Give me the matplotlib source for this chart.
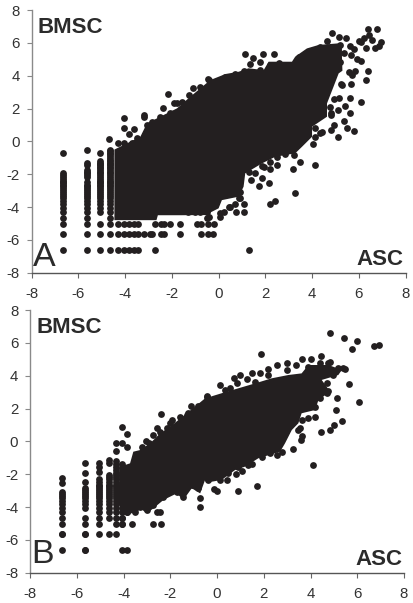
import matplotlib
matplotlib.use('Agg')
import matplotlib.pyplot as plt

plt.rcParams['font.family'] = ['Liberation Sans', 'DejaVu Sans']
plt.rcParams['axes.unicode_minus'] = False

W, H = 413, 603
INK = '#231f20'

ticks = [-8, -6, -4, -2, 0, 2, 4, 6, 8]

# panel A: stripes at low ASC
a_col_x = [-6.64, -5.64, -5.06, -4.64]
a_col_y = [
    [-6.64, -5.64, -5.06, -4.64, -4.32, -4.06, -3.84, -3.64, -3.47, -3.32, -3.18, -3.06,
     -2.94, -2.84, -2.74, -2.64, -2.56, -2.47, -2.40, -2.32, -2.18, -2.06, -1.94, -0.69],
    [-6.64, -5.64, -5.06, -4.64, -4.32, -4.06, -3.84, -3.64, -3.47, -3.32, -3.18, -3.06,
     -2.94, -2.84, -2.74, -2.64, -2.47, -2.18, -2.06, -1.94, -1.84, -1.74, -1.47, -1.32, -0.53],
    [-6.64, -5.64, -5.06, -4.32, -4.06, -3.84, -3.64, -3.47, -3.32, -3.18, -3.06, -2.94,
     -2.84, -2.74, -2.64, -2.56, -2.47, -2.40, -2.32, -2.18, -2.06, -1.94, -1.84, -1.74,
     -1.64, -1.56, -1.47, -1.40, -1.32, -1.22, -0.69],
    [-6.64, -5.64, -5.06, -4.64, -4.32, -4.06, -3.84, -3.64, -3.47, -3.32, -3.18, -3.06,
     -2.94, -2.84, -2.74, -2.64, -2.56, -2.47, -2.40, -2.32, -2.18, -2.06, -1.94, -1.84,
     -1.74, -1.64, -1.56, -1.47, -1.40, -1.32, -1.22, -1.12, -1.00, -0.89, -0.79, -0.69,
     -0.60, -0.51],
]
# panel A: rows at low BMSC
a_row_y = [-6.64, -5.64, -5.06]
a_row_x = [
    [-4.32, -4.06, -3.84, -3.64, -3.47, -2.74],
    [-4.32, -4.06, -3.84, -3.64, -3.47, -3.18, -2.94, -2.84, -2.47, -2.32, -1.64, -0.74, -0.46, -0.26],
    [-4.32, -4.06, -3.84, -3.64, -3.47, -2.74, -2.47, -2.32, -2.06, -1.64, -0.93, -0.74, -0.46, -0.18],
]
a_out_x = [6.38, 6.79, 4.85, 5.14, 5.45, 4.65, 6.95, 6.00, 6.42, 6.21, 6.56, 6.31, 6.71, 6.88, 6.11,
           5.62, 5.81, 5.67, 5.92, 6.11, 1.14, 1.47, 1.88, 2.38, 1.33, 1.78, 6.38, 6.29, 5.68, 5.25,
           5.85, 5.64, 6.08, 5.14, 5.42, 5.12, 5.62, 5.35, 5.48, 5.81, 5.10, 4.92, 4.82, 4.04, 4.42,
           4.11, 4.82, -0.47, -1.10, -0.78, -1.28, -2.18, -1.92, -1.57, -2.40, -2.07, -3.18, -3.18,
           -4.07, -4.07, -3.64, -3.85, -4.67, -4.32, -4.04, 1.29, 3.27, 2.43, 2.18, 1.71, 2.14, 1.86,
           1.37, 1.54, 2.18, 3.18, 3.47, 4.12, 1.07, 0.74, 1.09, 0.69, 0.07, 0.21, 0.43, -0.43, 0.93,
           2.50, 1.93, -1.30, -1.00, -0.80, -0.50]
a_out_y = [6.84, 6.82, 6.58, 6.38, 6.27, 6.13, 6.07, 6.13, 6.48, 6.27, 6.17, 5.66, 5.70, 5.81, 6.07,
           5.81, 5.60, 5.26, 5.00, 4.89, 5.34, 5.06, 5.34, 5.34, 4.71, 4.85, 4.26, 3.71, 3.51, 3.49,
           4.26, 2.64, 2.39, 2.62, 2.15, 1.89, 1.74, 1.22, 0.83, 0.61, 0.28, 0.97, 0.69, -0.16, 0.59,
           0.24, 1.60, 3.78, 3.23, 3.33, 2.82, 2.86, 2.31, 2.37, 2.01, 1.74, 1.60, 1.50,
           1.44, 0.83, 0.73, 0.44, 0.16, -0.12, -0.12, -6.62, -3.17, -3.62, -3.82, -2.70, -2.52, -2.22,
           -2.36, -1.91, -1.69, -1.69, -1.24, -1.44, -4.29, -4.29, -3.82, -3.82, -4.59, -4.29, -4.02, -4.59, -3.48,
           -1.44, -1.55, -4.32, -4.32, -4.32, -4.32]
# dots that make the bumpy rim of the cloud
a_rim_x = [-1.78, -2.50, -2.85, -3.07, -3.14, -3.50, -3.71, -0.43, 0.29, 0.71, 1.07, 1.43, 1.78, 2.21,
           2.57, 3.00, 3.43, 3.85, 4.07, 4.35, 4.57, 4.92, 5.21, 5.35, 5.21, 5.57, 5.71, 5.28, 4.92,
           4.78, 4.82, 4.35, 4.14, -0.50, 0.07, 0.50, 0.86, 0.93, 1.29, 1.86, 2.18, 2.50, 2.85, 3.21]
a_rim_y = [2.31, 1.50, 1.20, 1.00, 0.38, 0.18, -0.12, 3.73, 3.90, 4.10, 4.30, 4.24, 4.34, 4.65,
           4.75, 4.65, 5.16, 5.46, 5.56, 5.77, 5.66, 5.56, 5.87, 5.40, 4.85, 4.24, 4.04, 3.43, 2.56,
           2.11, 1.70, 0.48, 0.79, -4.69, -4.39, -3.98, -3.48, -3.07, -1.85, -1.50, -1.24, -0.94, -0.77, -0.83]
# outline of the solid part of the cloud
a_cloud_x = [-4.46, -3.92, -3.35, -3.07, -2.36, -1.78, -1.21, -0.78, -0.36, 0.29, 0.86, 1.28, 1.93, 2.14,
             3.14, 3.28, 3.78, 4.28, 5.14, 5.28, 5.28, 5.30, 5.14, 4.92, 4.64, 4.64, 4.00, 4.00, 3.57,
             3.28, 2.43, 1.86, 1.14, 1.07, 0.86, 0.14, 0.00, -0.57, -1.60, -2.60, -2.66, -4.46]
a_cloud_y = [-0.50, -0.12, 0.28, 1.09, 1.60, 2.01, 2.72, 3.23, 3.73, 4.10, 4.24, 4.45, 4.34, 4.85,
             4.85, 5.16, 5.66, 5.87, 5.97, 5.87, 5.16, 4.30, 4.14, 3.33, 2.31, 1.50, 0.89, 0.28, -0.33,
             -0.73, -0.94, -1.34, -1.95, -2.76, -3.37, -3.58, -4.08, -4.49, -4.50, -4.50, -4.80, -4.80]

# panel B
b_col_x = [-6.64, -5.64, -5.06, -4.64, -4.32, -4.06, -3.84]
b_col_y = [
    [-6.64, -5.64, -5.06, -4.64, -4.32, -4.06, -3.84, -3.64, -3.47, -3.32, -3.18, -3.06, -2.56, -2.25],
    [-6.64, -5.64, -5.06, -4.64, -4.06, -3.84, -3.64, -3.47, -3.32, -3.18, -3.06, -2.94, -2.84, -2.47, -1.91, -1.32],
    [-5.64, -5.06, -4.64, -4.32, -4.06, -3.84, -3.64, -3.47, -3.32, -3.18, -3.06, -2.94, -2.84, -2.74,
     -2.64, -2.47, -2.32, -1.84, -1.56, -1.32],
    [-5.64, -4.64, -4.32, -4.06, -3.84, -3.64, -3.47, -3.32, -3.18, -3.06, -2.94, -2.84, -2.74, -2.64,
     -2.47, -2.32, -2.18, -2.06, -1.32, -1.12],
    [-5.64, -5.06, -4.64, -4.32, -4.06, -3.84, -3.64, -3.47, -3.32, -3.18, -3.06, -2.94, -2.84, -2.74,
     -2.64, -2.47, -2.32, -2.18, -2.06, -1.94, -1.74, -1.56, -1.40, -1.22, -0.59, -0.12],
    [-5.06, -4.64, -4.32, -4.06, -3.84, -3.64, -3.47, -3.18, -2.94, -2.74, -2.56, -2.32, -2.06, -1.84, -1.64, -1.40],
    [-4.32, -4.06, -3.84, -3.64, -3.32, -3.06, -2.84, -2.56, -2.32, -2.06, -1.84, -1.64],
]
b_row_x = [-6.64, -5.64, -5.64]
b_row_y = [-5.64, -5.64, -6.64]
b_out_x = [4.85, 5.45, 5.98, 5.79, 6.72, 6.92, 1.87, 4.45, 3.65, 4.02, 2.98, 2.55, 3.38, 2.20, 1.48, 0.98,
           0.73, 1.27, 1.84, 0.13, 0.56, -0.41, 5.66, 5.14, 6.06, 5.11, 5.34, 5.01, 4.84, 4.44, 3.62,
           3.58, 3.25, 4.20, 3.91, 3.48, 5.48, 4.84, 4.77, 4.11, 1.70, 0.90, 0.00, -0.13, 0.41, 1.08,
           0.80, 1.48, 2.55, 2.27, 2.77, -0.74, -0.74, -2.43, -2.58, -2.75, -2.39, -3.65, -4.08, -4.08,
           -3.83, -0.44, -1.11, -0.80, -2.41, -4.08, -3.85, -4.08, -3.85, -1.91, -1.58, -2.58, -2.72,
           -3.05, -3.19, -1.22]
b_out_y = [6.58, 6.28, 6.13, 5.60, 5.81, 5.87, 5.32, 5.20, 5.04, 5.04, 4.75, 4.63, 4.63, 4.39, 4.18, 4.02,
           3.86, 3.78, 4.18, 3.43, 3.23, 2.74, 3.51, 2.64, 2.40, 1.89, 1.22, 0.98, 0.69, 0.57, 0.35,
           0.08, -0.44, 1.50, 1.42, 0.69, 4.39, 4.85, 3.09, -1.44, -2.70, -3.02, -3.02, -2.90, -2.35, -1.81,
           -1.99, -1.38, -0.83, -0.69, -0.63, -4.02, -3.47, -4.28, -4.28, -5.03, -5.03, -5.03, -5.03, -6.62,
           -6.62, 2.72, 2.15, 2.15, 1.65, 0.85, 0.43, -0.12, -0.32, 1.30, 1.47, 0.83, 0.39,
           0.00, -0.36, 1.71]
b_rim_x = [-1.29, -2.15, -2.00, -2.43, -2.93, 0.34, 0.84, 1.63, 2.20, 2.98, 3.91, 4.41, 4.77, 5.19, 5.41,
           4.98, 4.69, 4.69, 4.41, 4.20, 3.62, 3.55, 1.91, 1.34, 0.91, 0.49, 0.13, -0.37, -0.44, -0.80,
           -1.08, -1.44, -1.72, -2.29, -2.72, -3.00, -3.29, -3.50, -3.86, -4.08]
b_rim_y = [1.60, 0.80, 1.10, 0.59, -0.12, 3.13, 3.57, 3.64, 4.04, 4.35, 4.55, 4.75, 4.75, 4.45, 4.45,
           4.04, 3.53, 2.92, 2.62, 2.10, 1.30, 0.79, -0.93, -1.44, -1.54, -1.95, -2.35, -2.35, -2.25, -2.86,
           -2.66, -3.37, -3.06, -3.37, -3.88, -4.18, -3.98, -4.28, -4.28, -4.69]
b_cloud_x = [-4.15, -3.72, -3.58, -3.29, -2.86, -2.43, -2.00, -1.29, -0.51, 0.20, 0.91, 1.63, 2.34, 3.05,
             3.62, 3.91, 4.77, 5.34, 5.19, 4.48, 4.84, 4.34, 4.20, 3.62, 3.48, 3.20, 2.91, 2.70, 1.77,
             1.20, 0.77, 0.20, -0.23, -0.51, -0.72, -1.08, -1.44, -1.72, -2.29, -2.72, -3.00, -3.29,
             -3.43, -4.00, -4.22]
b_cloud_y = [-1.54, -1.34, -0.63, -0.53, -0.12, 0.49, 0.90, 1.71, 2.62, 2.93, 3.23, 3.53, 3.84, 4.04,
             4.14, 4.65, 4.65, 4.35, 4.04, 3.74, 3.03, 2.52, 1.91, 1.71, 1.10, 0.69, -0.12, -0.63, -1.03,
             -1.54, -1.75, -2.35, -2.46, -2.35, -3.17, -2.86, -3.57, -3.17, -3.57, -4.08, -4.38, -4.08,
             -4.38, -4.38, -3.77]


def make_axes(fig, left, right, top, bottom):
    ax = fig.add_axes([left / W, 1 - bottom / H, (right - left) / W, (bottom - top) / H])
    ax.set_xlim(-8, 8)
    ax.set_ylim(-8, 8)
    ax.set_xticks(ticks)
    ax.set_yticks(ticks)
    ax.spines['top'].set_visible(False)
    ax.spines['right'].set_visible(False)
    ax.spines['left'].set_color('#8a8a8a')
    ax.spines['bottom'].set_color('#555555')
    ax.spines['left'].set_linewidth(1.0)
    ax.spines['bottom'].set_linewidth(1.0)
    ax.tick_params(axis='x', length=3.5, width=0.8, color='#666666', labelsize=10.8, labelcolor='#333333', pad=7)
    ax.tick_params(axis='y', length=3.5, width=0.8, color='#888888', labelsize=10.8, labelcolor='#333333', pad=5)
    return ax


def dots(ax, x, y):
    ax.scatter(x, y, s=24, color=INK, linewidths=0, zorder=3, clip_on=False)


def label(fig, x, y, s, **kw):
    fig.text(x / W, 1 - y / H, s, color='#2b2b2b', va='baseline', **kw)


fig = plt.figure(figsize=(W / 100, H / 100), dpi=100)

ax_a = make_axes(fig, 31.7, 405.5, 10, 272.7)
ax_a.fill(a_cloud_x, a_cloud_y, color=INK, linewidth=0, zorder=2)
for cx, cy in zip(a_col_x, a_col_y):
    dots(ax_a, [cx] * len(cy), cy)
for ry, rx in zip(a_row_y, a_row_x):
    dots(ax_a, rx, [ry] * len(rx))
dots(ax_a, a_out_x, a_out_y)
dots(ax_a, a_rim_x, a_rim_y)

ax_b = make_axes(fig, 30, 404, 310, 572.7)
ax_b.fill(b_cloud_x, b_cloud_y, color=INK, linewidth=0, zorder=2)
for cx, cy in zip(b_col_x, b_col_y):
    dots(ax_b, [cx] * len(cy), cy)
dots(ax_b, b_row_x, b_row_y)
dots(ax_b, b_out_x, b_out_y)
dots(ax_b, b_rim_x, b_rim_y)

label(fig, 37.5, 33, 'BMSC', fontsize=16, fontweight='bold')
label(fig, 403, 265, 'ASC', fontsize=16, fontweight='bold', ha='right')
label(fig, 33, 266.5, 'A', fontsize=24.5)
label(fig, 36, 332.7, 'BMSC', fontsize=16, fontweight='bold')
label(fig, 402, 565, 'ASC', fontsize=16, fontweight='bold', ha='right')
label(fig, 31, 562.7, 'B', fontsize=24.5)

fig.savefig('out.png', dpi=100)
